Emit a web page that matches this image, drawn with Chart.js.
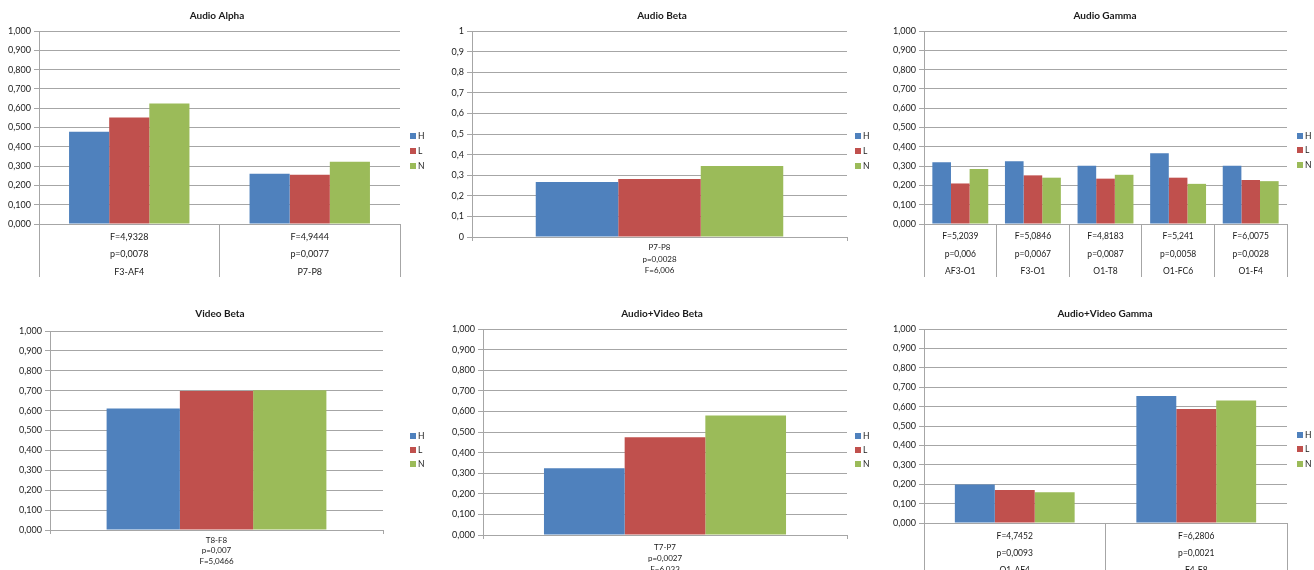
<!DOCTYPE html>
<html>
<head>
<meta charset="utf-8">
<title>EEG band power by condition</title>
<script src="https://cdn.jsdelivr.net/npm/chart.js@4.4.1/dist/chart.umd.min.js"></script>
<style>
  html, body { margin: 0; padding: 0; background: #fff; width: 1314px; height: 570px; overflow: hidden; }
  canvas { position: absolute; display: block; }
</style>
</head>
<body>
<canvas id="c1"></canvas>
<canvas id="c2"></canvas>
<canvas id="c3"></canvas>
<canvas id="c4"></canvas>
<canvas id="c5"></canvas>
<canvas id="c6"></canvas>
<script>
// Series (groups) and their colours
const seriesNames = ['H', 'L', 'N'];
const seriesColors = ['#4F81BD', '#C0504D', '#9BBB59'];

// Audio Alpha
const audioAlphaCats = [['F=4,9328', 'p=0,0078', 'F3-AF4'], ['F=4,9444', 'p=0,0077', 'P7-P8']];
const audioAlphaH = [0.478, 0.260];
const audioAlphaL = [0.552, 0.255];
const audioAlphaN = [0.625, 0.322];

// Audio Beta
const audioBetaCats = [['P7-P8', 'p=0,0028', 'F=6,006']];
const audioBetaH = [0.267];
const audioBetaL = [0.282];
const audioBetaN = [0.345];

// Audio Gamma
const audioGammaCats = [
  ['F=5,2039', 'p=0,006', 'AF3-O1'],
  ['F=5,0846', 'p=0,0067', 'F3-O1'],
  ['F=4,8183', 'p=0,0087', 'O1-T8'],
  ['F=5,241', 'p=0,0058', 'O1-FC6'],
  ['F=6,0075', 'p=0,0028', 'O1-F4']
];
const audioGammaH = [0.320, 0.325, 0.302, 0.367, 0.302];
const audioGammaL = [0.210, 0.252, 0.235, 0.240, 0.228];
const audioGammaN = [0.285, 0.240, 0.255, 0.208, 0.222];

// Video Beta
const videoBetaCats = [['T8-F8', 'p=0,007', 'F=5,0466']];
const videoBetaH = [0.610];
const videoBetaL = [0.699];
const videoBetaN = [0.702];

// Audio+Video Beta
const avBetaCats = [['T7-P7', 'p=0,0027', 'F=6,033']];
const avBetaH = [0.324];
const avBetaL = [0.475];
const avBetaN = [0.580];

// Audio+Video Gamma
const avGammaCats = [['F=4,7452', 'p=0,0093', 'O1-AF4'], ['F=6,2806', 'p=0,0021', 'F4-F8']];
const avGammaH = [0.199, 0.655];
const avGammaL = [0.170, 0.588];
const avGammaN = [0.158, 0.631];

// Value-axis tick labels
const fmt3 = v => v.toFixed(3).replace('.', ',');
const fmt1 = v => String(parseFloat(v.toFixed(1))).replace('.', ',');

const GRID = '#a6a6a6';
const TEXT = '#1a1a1a';
const FONT = 'Lato, "Liberation Sans", sans-serif';

// Title and legend, placed in the chart's own canvas coordinates
const frame = {
  id: 'frame',
  afterDraw(chart, args, o) {
    const ctx = chart.ctx;
    ctx.save();
    ctx.fillStyle = TEXT;
    ctx.textAlign = 'center';
    ctx.textBaseline = 'middle';
    ctx.font = 'bold ' + o.titleSize + 'px ' + FONT;
    ctx.fillText(o.title, o.titleX, o.titleY);
    ctx.font = o.legendSize + 'px ' + FONT;
    ctx.textAlign = 'left';
    chart.data.datasets.forEach((ds, i) => {
      const y = o.legendY[i];
      ctx.fillStyle = ds.backgroundColor;
      ctx.fillRect(o.legendX, y - 3, 6, 6);
      ctx.fillStyle = TEXT;
      ctx.fillText(ds.label, o.legendX + 8, y + 0.5);
    });
    ctx.restore();
  }
};

function barChart(id, c) {
  const [bx, by, bw, bh] = c.box;
  const a = c.area;
  const canvas = document.getElementById(id);
  canvas.width = bw;
  canvas.height = bh;
  canvas.style.left = bx + 'px';
  canvas.style.top = by + 'px';
  return new Chart(canvas, {
    type: 'bar',
    data: {
      labels: c.labels,
      datasets: seriesNames.map((name, i) => ({
        label: name,
        data: c.series[i],
        backgroundColor: seriesColors[i],
        borderWidth: 0,
        categoryPercentage: c.group,
        barPercentage: 1
      }))
    },
    options: {
      responsive: false,
      animation: false,
      devicePixelRatio: 1,
      layout: { padding: { left: 0, top: a.t, right: bw - a.r, bottom: 0 } },
      plugins: {
        legend: { display: false },
        title: { display: false },
        tooltip: { enabled: false },
        frame: {
          title: c.title, titleX: c.titleX, titleY: c.titleY, titleSize: 10,
          legendX: c.legendX, legendY: c.legendY, legendSize: 8.5
        }
      },
      scales: {
        x: {
          offset: true,
          grid: { display: true, offset: true, drawOnChartArea: false, drawTicks: true, tickLength: c.tickLen, color: GRID, lineWidth: 1 },
          border: { color: GRID, width: 1 },
          ticks: {
            autoSkip: false, maxRotation: 0, minRotation: 0,
            padding: c.labelPad, color: TEXT,
            font: { family: FONT, size: c.catSize, lineHeight: c.lineH + 'px' }
          },
          afterFit(s) { s.height = bh - a.b; }
        },
        y: {
          min: 0, max: 1,
          grid: { color: GRID, lineWidth: 1, tickLength: 5 },
          border: { color: GRID, width: 1 },
          ticks: { stepSize: 0.1, callback: c.fmt, padding: 3, color: TEXT, font: { family: FONT, size: 9 } },
          afterFit(s) { s.width = a.l; }
        }
      }
    },
    plugins: [frame]
  });
}

barChart('c1', {
  box: [0, 0, 440, 285], area: { l: 39, r: 400, t: 31, b: 224 },
  labels: audioAlphaCats, series: [audioAlphaH, audioAlphaL, audioAlphaN],
  group: 0.667, fmt: fmt3, tickLen: 53, labelPad: -49, lineH: 17.5, catSize: 9,
  title: 'Audio Alpha', titleX: 217, titleY: 16, legendX: 410, legendY: [136, 151, 166]
});

barChart('c2', {
  box: [440, 0, 435, 285], area: { l: 32, r: 407, t: 31, b: 237 },
  labels: audioBetaCats, series: [audioBetaH, audioBetaL, audioBetaN],
  group: 0.66, fmt: fmt1, tickLen: 4, labelPad: 1, lineH: 11.5, catSize: 8,
  title: 'Audio Beta', titleX: 222, titleY: 16, legendX: 415, legendY: [136, 151, 166]
});

barChart('c3', {
  box: [875, 0, 439, 285], area: { l: 49, r: 412, t: 31, b: 224 },
  labels: audioGammaCats, series: [audioGammaH, audioGammaL, audioGammaN],
  group: 0.77, fmt: fmt3, tickLen: 53, labelPad: -49, lineH: 17.5, catSize: 8.5,
  title: 'Audio Gamma', titleX: 230, titleY: 16, legendX: 422, legendY: [136, 150, 165]
});

barChart('c4', {
  box: [0, 285, 440, 285], area: { l: 50, r: 383, t: 46, b: 245 },
  labels: videoBetaCats, series: [videoBetaH, videoBetaL, videoBetaN],
  group: 0.66, fmt: fmt3, tickLen: 4, labelPad: 1, lineH: 10.5, catSize: 8,
  title: 'Video Beta', titleX: 220, titleY: 29, legendX: 410, legendY: [151, 165, 179]
});

barChart('c5', {
  box: [440, 285, 435, 285], area: { l: 43, r: 407, t: 44, b: 250 },
  labels: avBetaCats, series: [avBetaH, avBetaL, avBetaN],
  group: 0.665, fmt: fmt3, tickLen: 4, labelPad: 2.5, lineH: 11, catSize: 8,
  title: 'Audio+Video Beta', titleX: 222, titleY: 29, legendX: 415, legendY: [151, 165, 179]
});

barChart('c6', {
  box: [875, 285, 439, 285], area: { l: 49, r: 412, t: 44, b: 238 },
  labels: avGammaCats, series: [avGammaH, avGammaL, avGammaN],
  group: 0.66, fmt: fmt3, tickLen: 50, labelPad: -45.5, lineH: 17, catSize: 8.5,
  title: 'Audio+Video Gamma', titleX: 230, titleY: 29, legendX: 422, legendY: [150, 164, 179]
});
</script>
</body>
</html>
